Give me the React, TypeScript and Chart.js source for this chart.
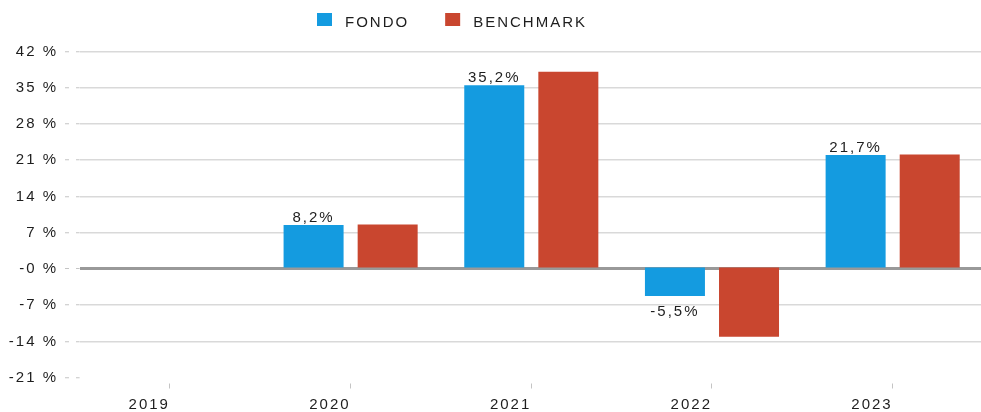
import React, { useEffect, useRef } from 'react';
import { Chart, registerables } from 'chart.js';

Chart.register(...registerables);

// ---- data ----
const categories = ['2019', '2020', '2021', '2022', '2023'];
const fondoValues: (number | null)[] = [null, 8.2, 35.2, -5.5, 21.7];
const benchmarkValues: (number | null)[] = [null, 8.3, 37.8, -13.4, 21.8];
const seriesNames = ['FONDO', 'BENCHMARK'];
const yTickLabels = ['-21 %', '-14 %', '-7 %', '-0 %', '7 %', '14 %', '21 %', '28 %', '35 %', '42 %'];
const Y_FIRST_TICK = -21.3;
const Y_STEP = 7;

// ---- styles ----
const FONT = '"Liberation Sans", Arial, sans-serif';
const SPACING = '2px';
const TEXT = '#1e1e1e';
const BLUE = '#149be0';
const RED = '#c9462f';
const GRID = '#d9d9d9';
const ZERO = '#999999';
const TICK = '#c4c4c4';

const setSpacing = (chart: any) => {
  (chart.ctx as any).letterSpacing = SPACING;
};

const spacingPlugin = {
  id: 'spacingPlugin',
  beforeUpdate: setSpacing,
  beforeLayout: setSpacing,
  beforeDraw: setSpacing,
};

const legendPlugin = {
  id: 'customLegend',
  afterDraw(chart: any) {
    const ctx = chart.ctx;
    ctx.save();
    (ctx as any).letterSpacing = SPACING;
    ctx.font = `15px ${FONT}`;
    ctx.textAlign = 'left';
    ctx.textBaseline = 'alphabetic';
    let x = 317;
    chart.data.datasets.forEach((ds: any) => {
      ctx.fillStyle = ds.backgroundColor;
      ctx.fillRect(x, 13, 15, 13);
      ctx.fillStyle = TEXT;
      ctx.fillText(ds.label, x + 28, 26.5);
      x += 28 + ctx.measureText(ds.label).width + 36;
    });
    ctx.restore();
  },
};

const valueLabelPlugin = {
  id: 'valueLabels',
  afterDatasetsDraw(chart: any) {
    const ctx = chart.ctx;
    const meta = chart.getDatasetMeta(0);
    const ds = chart.data.datasets[0];
    ctx.save();
    (ctx as any).letterSpacing = SPACING;
    ctx.font = `15px ${FONT}`;
    ctx.fillStyle = TEXT;
    ctx.textAlign = 'center';
    meta.data.forEach((bar: any, i: number) => {
      const v = ds.data[i];
      if (v === null || v === undefined) return;
      const txt = v.toFixed(1).replace('.', ',') + '%';
      if (v >= 0) {
        ctx.textBaseline = 'alphabetic';
        ctx.fillText(txt, bar.x, bar.y - 3);
      } else {
        ctx.textBaseline = 'top';
        ctx.fillText(txt, bar.x, bar.y + 8);
      }
    });
    ctx.restore();
  },
};

export default function App() {
  const canvasRef = useRef<HTMLCanvasElement | null>(null);

  useEffect(() => {
    if (!canvasRef.current) return;
    const chart = new Chart(canvasRef.current, {
      type: 'bar',
      data: {
        labels: categories,
        datasets: [
          {
            label: seriesNames[0],
            data: fondoValues,
            backgroundColor: BLUE,
            barPercentage: 0.81,
            categoryPercentage: 0.82,
          },
          {
            label: seriesNames[1],
            data: benchmarkValues,
            backgroundColor: RED,
            barPercentage: 0.81,
            categoryPercentage: 0.82,
          },
        ],
      },
      options: {
        animation: false,
        responsive: true,
        maintainAspectRatio: false,
        layout: { padding: { top: 51.5, left: 0, right: 1, bottom: 0 } },
        plugins: {
          legend: { display: false },
          tooltip: { enabled: false },
        },
        scales: {
          x: {
            offset: true,
            border: { display: false },
            grid: {
              offset: false,
              drawOnChartArea: false,
              drawTicks: true,
              tickLength: 11,
              tickColor: TICK,
              tickWidth: 1,
              tickBorderDash: [0, 5.5, 5, 100],
            },
            ticks: {
              align: 'end',
              padding: 7.3,
              color: TEXT,
              font: { family: FONT, size: 15 },
              maxRotation: 0,
              autoSkip: false,
            },
            afterFit(scale: any) {
              scale.height = 42.3;
            },
          },
          y: {
            min: Y_FIRST_TICK,
            max: Y_FIRST_TICK + Y_STEP * (yTickLabels.length - 1),
            border: { display: false },
            afterBuildTicks(scale: any) {
              scale.ticks = yTickLabels.map((_, i) => ({ value: Y_FIRST_TICK + i * Y_STEP }));
            },
            afterFit(scale: any) {
              scale.width = 79.6;
            },
            grid: {
              color: (c: any) =>
                c.index === 0 ? 'rgba(0,0,0,0)' : yTickLabels[c.index] === '-0 %' ? ZERO : GRID,
              lineWidth: (c: any) => (yTickLabels[c.index] === '-0 %' ? 3 : 1.5),
              drawTicks: true,
              tickLength: 14.6,
              tickColor: TICK,
              tickWidth: 1,
              tickBorderDash: [4, 7, 3.6, 100],
            },
            ticks: {
              padding: 7,
              color: TEXT,
              font: { family: FONT, size: 15 },
              callback: (_v: any, i: number) => yTickLabels[i],
            },
          },
        },
      } as any,
      plugins: [spacingPlugin, valueLabelPlugin, legendPlugin],
    });
    return () => chart.destroy();
  }, []);

  return (
    <div
      style={{
        position: 'fixed',
        left: 0,
        top: 0,
        width: 981,
        height: 412,
        overflow: 'hidden',
        background: '#ffffff',
      }}
    >
      <div style={{ position: 'absolute', left: 0, top: 0, width: 984, height: 420 }}>
        <canvas ref={canvasRef} />
      </div>
    </div>
  );
}
